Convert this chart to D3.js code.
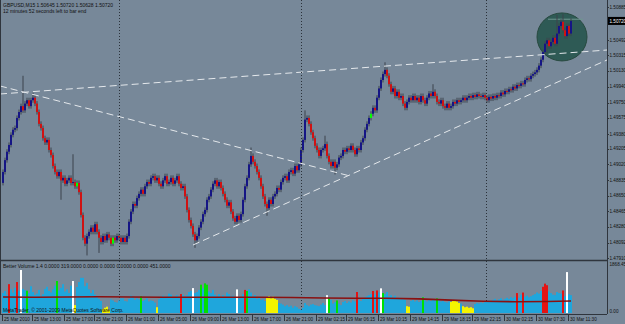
<!doctype html>
<html>
<head>
<meta charset="utf-8">
<script src="https://cdn.jsdelivr.net/npm/d3@7"></script>
<style>
  body { margin: 0; background: #778899; }
  svg { display: block; font-family: "Liberation Sans", Arial, sans-serif; }
</style>
</head>
<body>
<div id="chart"></div>
<script>
// GBPUSD M15 closes, one per bar (open = previous close)
const firstOpen = 1.4880;
const closes = [
  1.4893, 1.4907, 1.4917, 1.4925, 1.4937, 1.4943, 1.4945, 1.4957, 1.4964, 1.4971,
  1.4966, 1.4974, 1.4978, 1.4971, 1.4978, 1.4981, 1.4974, 1.4964, 1.4950, 1.4945,
  1.4933, 1.4928, 1.4931, 1.4919, 1.4913, 1.4900, 1.4893, 1.4888, 1.4893, 1.4883,
  1.4886, 1.4879, 1.4883, 1.4886, 1.4880, 1.4881, 1.4876, 1.4880, 1.4869, 1.4842,
  1.4815, 1.4808, 1.4817, 1.4822, 1.4827, 1.4822, 1.4831, 1.4822, 1.4815, 1.4810,
  1.4817, 1.4812, 1.4819, 1.4815, 1.4808, 1.4815, 1.4812, 1.4817, 1.4815, 1.4810,
  1.4815, 1.4810, 1.4817, 1.4834, 1.4846, 1.4855, 1.4853, 1.4862, 1.4867, 1.4872,
  1.4867, 1.4876, 1.4881, 1.4879, 1.4886, 1.4888, 1.4883, 1.4886, 1.4879, 1.4876,
  1.4883, 1.4888, 1.4879, 1.4881, 1.4886, 1.4879, 1.4883, 1.4888, 1.4879, 1.4874,
  1.4876, 1.4864, 1.4848, 1.4836, 1.4829, 1.4819, 1.4812, 1.4817, 1.4827, 1.4834,
  1.4843, 1.4848, 1.4860, 1.4864, 1.4872, 1.4879, 1.4883, 1.4876, 1.4881, 1.4874,
  1.4867, 1.4860, 1.4853, 1.4857, 1.4846, 1.4838, 1.4834, 1.4841, 1.4836, 1.4843,
  1.4860, 1.4876, 1.4886, 1.4902, 1.4912, 1.4905, 1.4900, 1.4893, 1.4886, 1.4876,
  1.4864, 1.4855, 1.4850, 1.4860, 1.4855, 1.4864, 1.4867, 1.4874, 1.4872, 1.4881,
  1.4886, 1.4888, 1.4883, 1.4893, 1.4895, 1.4891, 1.4900, 1.4895, 1.4902, 1.4919,
  1.4931, 1.4955, 1.4957, 1.4950, 1.4940, 1.4933, 1.4924, 1.4919, 1.4912, 1.4919,
  1.4921, 1.4926, 1.4912, 1.4905, 1.4900, 1.4905, 1.4898, 1.4902, 1.4910, 1.4912,
  1.4919, 1.4917, 1.4921, 1.4919, 1.4924, 1.4919, 1.4914, 1.4921, 1.4919, 1.4928,
  1.4933, 1.4943, 1.4950, 1.4957, 1.4962, 1.4969, 1.4966, 1.4981, 1.4992, 1.5002,
  1.5009, 1.5014, 1.5007, 1.4997, 1.4988, 1.4992, 1.4983, 1.4988, 1.4981, 1.4983,
  1.4974, 1.4969, 1.4976, 1.4981, 1.4978, 1.4983, 1.4978, 1.4981, 1.4976, 1.4983,
  1.4978, 1.4974, 1.4981, 1.4986, 1.4983, 1.4988, 1.4983, 1.4976, 1.4974, 1.4978,
  1.4971, 1.4969, 1.4974, 1.4969, 1.4971, 1.4976, 1.4974, 1.4978, 1.4976, 1.4978,
  1.4981, 1.4978, 1.4981, 1.4983, 1.4981, 1.4984, 1.4982, 1.4985, 1.4983, 1.4982,
  1.4984, 1.4981, 1.4978, 1.4982, 1.4980, 1.4983, 1.4981, 1.4984, 1.4983, 1.4987,
  1.4985, 1.4989, 1.4988, 1.4991, 1.4990, 1.4994, 1.4992, 1.4996, 1.4995, 1.4998,
  1.4997, 1.5002, 1.5004, 1.5003, 1.5007, 1.5009, 1.5011, 1.5014, 1.5019, 1.5026,
  1.5035, 1.5045, 1.5049, 1.5042, 1.5047, 1.5052, 1.5045, 1.5057, 1.5066, 1.5071,
  1.5061, 1.5054, 1.5066, 1.5057, 1.5072
];
const spikeHighs = { 10: 1.5004, 15: 1.4984, 35: 1.4911, 124: 1.4919, 151: 1.4963, 161: 1.4933, 191: 1.5020, 215: 1.4994, 277: 1.5076, 280: 1.5077 };
const spikeLows = { 29: 1.4863, 42: 1.4797, 48: 1.4800, 96: 1.4806, 132: 1.4844, 166: 1.4893, 272: 1.5037 };
const greenBars = [37, 55, 184];

// Better Volume histogram
const volumes = [
  760, 840, 690, 1100, 900, 780, 960, 1180, 850, 1640,
  920, 870, 850, 760, 1020, 800, 690, 740, 880, 650,
  720, 920, 1000, 840, 780, 900, 1040, 1220, 860, 960,
  1100, 820, 900, 760, 1040, 1220, 300, 990, 1180, 1340,
  1340, 1020, 1150, 900, 760, 880, 700, 620, 540, 460,
  150, 200, 240, 120, 520, 480, 420, 400, 480, 560,
  560, 460, 440, 540, 660, 620, 500, 560, 520, 640,
  460, 500, 560, 440, 480, 460, 400, 220, 520, 600,
  660, 580, 640, 740, 700, 560, 620, 680, 600, 720,
  700, 620, 680, 800, 840, 950, 760, 800, 880, 1080,
  940, 1130, 1080, 820, 760, 880, 700, 640, 720, 620,
  680, 600, 780, 720, 640, 660, 600, 900, 560, 620,
  720, 880, 840, 900, 780, 620, 680, 540, 580, 500,
  520, 460, 600, 640, 560, 620, 540, 500, 380, 360,
  320, 260, 300, 240, 280, 200, 260, 220, 160, 120,
  200, 380, 300, 260, 320, 340, 300, 280, 260, 320,
  380, 300, 680, 560, 500, 360, 420, 480, 360, 300,
  420, 460, 380, 440, 400, 480, 440, 800, 500, 460,
  540, 600, 640, 680, 720, 840, 700, 860, 780, 940,
  760, 720, 800, 640, 680, 600, 660, 560, 580, 520,
  540, 500, 260, 240, 460, 500, 440, 480, 420, 460,
  600, 480, 440, 500, 460, 520, 480, 560, 500, 440,
  460, 420, 400, 440, 420, 480, 460, 440, 380, 360,
  260, 220, 240, 200, 220, 180, 340, 380, 360, 400,
  380, 420, 440, 480, 460, 500, 540, 480, 520, 560,
  500, 540, 580, 540, 600, 560, 620, 760, 580, 700,
  780, 620, 660, 600, 640, 680, 720, 780, 740, 840,
  1000, 1120, 1060, 820, 760, 700, 680, 800, 760, 740,
  860, 640, 1560, 720, 680
];
const volColors =
  "bbbrbbbrbw" + "bbgbbbbbbb" + "bbbbbbbgbb" + "bbbbbwybbb" + "bbbbbbbbbb" +
  "yyyybbbbbb" + "bbbbbbbbbg" + "bbbbbbbybb" + "bbbbbbbbbr" + "bbbbbwbbbg" +
  "bggbbbbbbb" + "bbbbbbbwbb" + "brgbbbbbbb" + "bbyyyyyybb" + "bbbbbbbbbb" +
  "bbbbbbbbbb" + "bbwgbbbgbb" + "bbbbbbbrbb" + "bbbbbrbrbw" + "gbbbbbbbbb" +
  "bbyybbbbbb" + "gbbbbbbgbb" + "bbbbyyyyyb" + "yyyyyybbbb" + "bbbbbbbbbb" +
  "bbbbbbbrbb" + "rbbbbbbbbb" + "rrrbbbbbbb" + "rbwbb";
const volAvgBars = [0, 16, 32, 48, 64, 80, 96, 112, 128, 144, 160, 176, 192, 208, 224, 240, 256, 272, 284];
const volAvg = [610, 600, 610, 620, 610, 600, 600, 600, 600, 590, 570, 560, 560, 540, 490, 450, 430, 440, 460];
const volMax = 1868.45;

const priceTicks = [1.50885, 1.50492, 1.50315, 1.50130, 1.49940, 1.49750, 1.49575, 1.49380,
  1.49205, 1.49020, 1.48835, 1.48650, 1.48465, 1.48280, 1.48092, 1.47910];
const currentPrice = 1.50720;

const timeLabels = ["25 Mar 2010", "25 Mar 13:00", "25 Mar 17:00", "25 Mar 21:00", "26 Mar 01:00",
  "26 Mar 05:00", "26 Mar 09:00", "26 Mar 13:00", "26 Mar 17:00", "26 Mar 21:00", "29 Mar 02:15",
  "29 Mar 06:15", "29 Mar 10:15", "29 Mar 14:15", "29 Mar 18:15", "29 Mar 22:15", "30 Mar 02:15",
  "30 Mar 07:30", "30 Mar 11:30"];
const timeLabelBars = [0, 15, 31, 46, 62, 78, 94, 109, 125, 141, 157, 172, 188, 204, 220, 235, 251, 267, 283];
const daySeparatorBars = [58, 149, 241.5];

// trend lines as [bar, price] pairs
const trendLines = [
  [[-1.5, 1.49854], [302, 1.50375]],
  [[-1.5, 1.49949], [173.5, 1.48882]],
  [[95, 1.48064], [302, 1.50257]]
];

const W = 625, H = 324;
const frameX = 607;
const svg = d3.select("#chart").append("svg").attr("width", W).attr("height", H);
svg.append("rect").attr("width", W).attr("height", H).attr("fill", "#778899");

const x = d3.scaleLinear().domain([0, 284]).range([3, 571]);
const y = d3.scaleLinear().domain([1.47910, 1.50885]).range([258, 7]);
const yv = d3.scaleLinear().domain([0, volMax]).range([313, 264]);

const main = svg.append("g");
main.append("clipPath").attr("id", "mainclip").append("rect").attr("width", frameX).attr("height", 259);

// highlight circle
main.append("ellipse")
  .attr("cx", x(279.5)).attr("cy", y(1.5053)).attr("rx", 25).attr("ry", 24)
  .attr("fill", "#2e5a55").attr("stroke", "#27493f").attr("stroke-width", 1);
main.append("line")
  .attr("x1", x(272.5)).attr("x2", x(290)).attr("y1", y(1.5074)).attr("y2", y(1.5074))
  .attr("stroke", "#6f968f").attr("stroke-width", 1);

// period separators
svg.append("g").selectAll("line").data(daySeparatorBars).join("line")
  .attr("x1", (d) => Math.round(x(d)) + 0.5).attr("x2", (d) => Math.round(x(d)) + 0.5)
  .attr("y1", 0).attr("y2", 314)
  .attr("stroke", "#2b323a").attr("stroke-dasharray", "1,2");

// candles
const bars = closes.map((c, i) => {
  const o = i === 0 ? firstOpen : closes[i - 1];
  const h = Math.max(o, c, spikeHighs[i] ?? -Infinity);
  const l = Math.min(o, c, spikeLows[i] ?? Infinity);
  return { i, o, c, h, l };
});
const candleColor = (d) => greenBars.includes(d.i) ? "#00ff00" : d.c >= d.o ? "#151585" : "#d01212";
const cg = main.append("g").attr("clip-path", "url(#mainclip)");
cg.selectAll("line.wick").data(bars).join("line")
  .attr("class", "wick")
  .attr("x1", (d) => x(d.i)).attr("x2", (d) => x(d.i))
  .attr("y1", (d) => y(d.h) - 2.5).attr("y2", (d) => y(d.l) + 2.5)
  .attr("stroke", "#3c424c").attr("stroke-width", 1);
cg.selectAll("rect.body").data(bars).join("rect")
  .attr("class", "body")
  .attr("x", (d) => x(d.i) - 1).attr("width", 2)
  .attr("y", (d) => y(Math.max(d.o, d.c)))
  .attr("height", (d) => Math.max(1, Math.abs(y(d.o) - y(d.c))))
  .attr("fill", candleColor);

// trend lines
main.append("g").attr("clip-path", "url(#mainclip)")
  .selectAll("line").data(trendLines).join("line")
  .attr("x1", (d) => x(d[0][0])).attr("y1", (d) => y(d[0][1]))
  .attr("x2", (d) => x(d[1][0])).attr("y2", (d) => y(d[1][1]))
  .attr("stroke", "#e4e8ec").attr("stroke-width", 1).attr("stroke-dasharray", "7,4");

// volume panel
const vg = svg.append("g");
vg.selectAll("rect").data(volumes).join("rect")
  .attr("x", (d, i) => x(i) - 1).attr("width", 2)
  .attr("y", (d) => yv(d)).attr("height", (d) => yv(0) - yv(d))
  .attr("fill", (d, i) => ({ b: "#1fa6dc", r: "#e41414", w: "#ffffff", g: "#00e000", y: "#f4f400" })[volColors[i]]);
vg.append("path")
  .datum(volAvgBars.map((b, k) => [b, volAvg[k]]))
  .attr("d", d3.line().x((d) => x(d[0])).y((d) => yv(d[1])))
  .attr("fill", "none").attr("stroke", "#8a1010").attr("stroke-width", 1.6);

// frames
const frame = svg.append("g").attr("stroke", "#2f353d").attr("fill", "none");
frame.append("line").attr("x1", 0.5).attr("x2", 0.5).attr("y1", 0).attr("y2", 314);
frame.append("line").attr("x1", frameX + 0.5).attr("x2", frameX + 0.5).attr("y1", 0).attr("y2", 314);
frame.append("line").attr("x1", 0).attr("x2", frameX).attr("y1", 260.5).attr("y2", 260.5).attr("stroke-width", 1.5);
frame.append("line").attr("x1", 0).attr("x2", frameX).attr("y1", 314.5).attr("y2", 314.5);

// price axis
const pa = svg.append("g").attr("font-size", 4.6).attr("fill", "#111");
pa.selectAll("line").data(priceTicks).join("line")
  .attr("x1", frameX).attr("x2", frameX + 2)
  .attr("y1", (d) => Math.round(y(d)) + 0.5).attr("y2", (d) => Math.round(y(d)) + 0.5)
  .attr("stroke", "#2f353d");
pa.selectAll("text").data(priceTicks).join("text")
  .attr("x", frameX + 2.5).attr("y", (d) => y(d)).attr("dy", "0.35em")
  .text((d) => d.toFixed(5));
pa.append("rect").attr("x", frameX + 1).attr("y", y(currentPrice) - 4).attr("width", 18).attr("height", 8).attr("fill", "#000");
pa.append("text").attr("x", frameX + 2.5).attr("y", y(currentPrice)).attr("dy", "0.35em").attr("fill", "#fff")
  .text(currentPrice.toFixed(5));
pa.append("text").attr("x", frameX + 2.5).attr("y", yv(volMax)).attr("dy", "0.35em").text(volMax.toFixed(2));
pa.append("text").attr("x", frameX + 2.5).attr("y", yv(0)).attr("dy", "0.1em").text("0.00");

// time axis
const ta = svg.append("g").attr("font-size", 4.6).attr("fill", "#111");
ta.selectAll("line").data(timeLabelBars).join("line")
  .attr("x1", (d) => Math.round(x(d)) - 0.5).attr("x2", (d) => Math.round(x(d)) - 0.5)
  .attr("y1", 315).attr("y2", 321).attr("stroke", "#2f353d");
ta.selectAll("text").data(timeLabels).join("text")
  .attr("x", (d, i) => x(timeLabelBars[i]) + 1).attr("y", 321)
  .text((d) => d);

// captions
const cap = svg.append("g").attr("font-size", 5).attr("fill", "#111");
cap.append("text").attr("x", 3).attr("y", 7).text("GBPUSD,M15  1.50645 1.50720 1.50628 1.50720");
cap.append("text").attr("x", 3).attr("y", 12.5).text("12 minutes 52 seconds left to bar end");
cap.append("text").attr("x", 3).attr("y", 267.5).text("Better Volume 1.4 0.0000 319.0000 0.0000 0.0000 0.0000 0.0000 451.0000");
cap.append("text").attr("x", 3).attr("y", 312).text("MetaTrader, \u00a9 2001-2009 MetaQuotes Software Corp.");
</script>
</body>
</html>
